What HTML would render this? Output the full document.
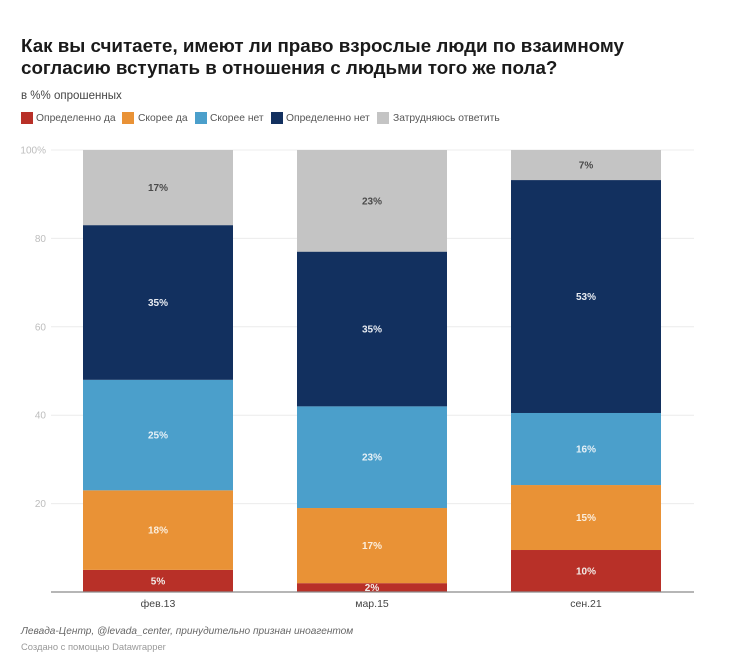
<!DOCTYPE html>
<html lang="ru">
<head>
<meta charset="utf-8">
<title>Опрос</title>
<style>
html,body{margin:0;padding:0;background:#fff}
body{width:732px;height:662px;overflow:hidden;position:relative;font-family:"Liberation Sans","Noto Sans CJK SC",sans-serif}
.t{position:absolute;white-space:nowrap}
#title{left:21px;top:35px;font-size:18.8px;line-height:22px;font-weight:700;color:#1a1a1a}
#sub{left:21px;top:89px;font-size:11.5px;line-height:14px;color:#444}
.sw{position:absolute;top:112px;width:12px;height:12px}
.lg{position:absolute;top:112px;font-size:10.3px;line-height:14px;color:#555;white-space:nowrap}
#src{left:21px;top:625px;font-size:10.1px;line-height:14px;font-style:italic;color:#666}
#made{left:21px;top:640px;font-size:9.4px;line-height:14px;color:#999}
svg{position:absolute;left:0;top:0}
svg text{font-family:"Liberation Sans","Noto Sans CJK SC",sans-serif}
</style>
</head>
<body>
<div class="t" id="title">Как вы считаете, имеют ли право взрослые люди по взаимному<br>согласию вступать в отношения с людьми того же пола?</div>
<div class="t" id="sub">в %% опрошенных</div>
<div id="legend">
<div class="sw" style="left:21px;background:#b83028"></div>
<div class="lg" style="left:36px">Определенно да</div>
<div class="sw" style="left:122px;background:#e99236"></div>
<div class="lg" style="left:138px">Скорее да</div>
<div class="sw" style="left:195px;background:#4b9fcb"></div>
<div class="lg" style="left:210px">Скорее нет</div>
<div class="sw" style="left:271px;background:#12305f"></div>
<div class="lg" style="left:286px">Определенно нет</div>
<div class="sw" style="left:377px;background:#c4c4c4"></div>
<div class="lg" style="left:393px">Затрудняюсь ответить</div>
</div>
<svg id="plot" width="732" height="662"></svg>
<div class="t" id="src">Левада-Центр, @levada_center, принудительно признан иноагентом</div>
<div class="t" id="made">Создано с помощью Datawrapper</div>
<script>
const categories = ['фев.13', 'мар.15', 'сен.21'];
const definitelyYes = [5, 2, 9.5];
const ratherYes = [18, 17, 14.7];
const ratherNo = [25, 23, 16.3];
const definitelyNo = [35, 35, 52.7];
const hardToSay = [17, 23, 6.8];
const yTicks = [20, 40, 60, 80, 100];

const seriesList = [
  {key: 'definitely-yes', values: definitelyYes, color: '#b83028', text: '#f2ece8'},
  {key: 'rather-yes', values: ratherYes, color: '#e99236', text: '#fbeedd'},
  {key: 'rather-no', values: ratherNo, color: '#4b9fcb', text: '#e6f0f6'},
  {key: 'definitely-no', values: definitelyNo, color: '#12305f', text: '#e8ecf2'},
  {key: 'hard-to-say', values: hardToSay, color: '#c4c4c4', text: '#4a4a4a'}
];

const NS = 'http://www.w3.org/2000/svg';
const svg = document.getElementById('plot');
const PLOT_L = 51, PLOT_R = 694, Y0 = 592, Y100 = 150;
const BAR_W = 150, FIRST_CENTER = 158, STEP = 214;
const yScale = v => Y0 - (v / 100) * (Y0 - Y100);
const xCenter = i => FIRST_CENTER + i * STEP;

function add(tag, attrs, text) {
  const el = document.createElementNS(NS, tag);
  for (const k in attrs) el.setAttribute(k, attrs[k]);
  if (text !== undefined) el.textContent = text;
  svg.appendChild(el);
  return el;
}

yTicks.forEach(t => {
  const y = yScale(t);
  const line = add('line', {x1: PLOT_L, x2: PLOT_R, y1: y, y2: y, stroke: '#ececec', 'stroke-width': 1});
  
  
  const lab = add('text', {x: 46, y: y + 3.5, 'text-anchor': 'end', 'font-size': 10, fill: '#bdbdbd'}, t === 100 ? t + '%' : String(t));
  
  
});

categories.forEach((cat, i) => {
  let acc = 0;
  seriesList.forEach(s => {
    const v = s.values[i];
    const top = yScale(acc + v), bottom = yScale(acc);
    const r = add('rect', {x: xCenter(i) - BAR_W / 2, y: top, width: BAR_W, height: bottom - top, fill: s.color});
    
    
    acc += v;
  });
  acc = 0;
  seriesList.forEach(s => {
    const v = s.values[i];
    const mid = yScale(acc + v / 2);
    const lab = add('text', {x: xCenter(i), y: mid + 3.5, 'text-anchor': 'middle', 'font-size': 10, 'font-weight': 700, fill: s.text}, Math.round(v) + '%');
    
    
    acc += v;
  });
  const c = add('text', {x: xCenter(i), y: 607, 'text-anchor': 'middle', 'font-size': 10.5, fill: '#444'}, cat);
  
  
});

const base = add('line', {x1: PLOT_L, x2: PLOT_R, y1: Y0, y2: Y0, stroke: '#8a8a8a', 'stroke-width': 1.2});


</script>
</body>
</html>
